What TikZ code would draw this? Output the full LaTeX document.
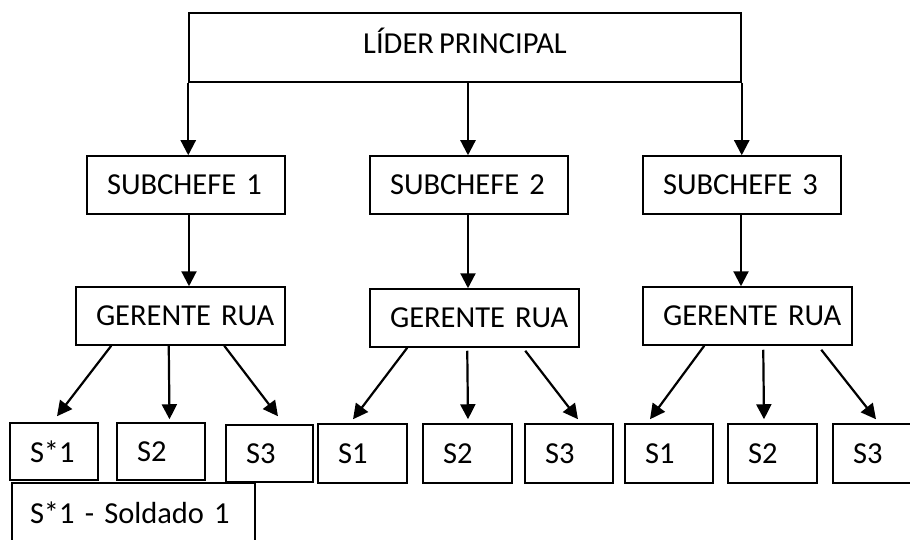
\documentclass[tikz,border=0pt]{standalone}
\usepackage{fontspec}
\setmainfont{Carlito}[WordSpace=0.75]
\usetikzlibrary{arrows.meta,calc}
\begin{document}
\begin{tikzpicture}[x=1pt,y=-1pt,
  box/.style={draw, line width=1.5pt, inner xsep=20pt, inner ysep=0pt, align=left, font=\fontsize{30.5}{35}\selectfont},
  arr/.style={line width=2.2pt, -{Triangle[width=15pt,length=15pt]}}]
\useasboundingbox (0,0) rectangle (910,540);
% top
\node[box, minimum width=552pt, minimum height=69pt, align=center, inner xsep=0pt, text height=19.5pt, text depth=7pt] (lider) at (465,47.5) {LÍDER PRINCIPAL};
% subchefes
\node[box, text width=158pt, minimum height=58pt] (sc1) at (186,185) {\mbox{SUBCHEFE 1}};
\node[box, text width=158pt, minimum height=58pt] (sc2) at (469,185) {\mbox{SUBCHEFE 2}};
\node[box, text width=158pt, minimum height=58pt] (sc3) at (742,185) {\mbox{SUBCHEFE 3}};
% gerentes
\node[box, text width=169pt, minimum height=58pt] (gr1) at (180.5,316) {\mbox{GERENTE RUA}};
\node[box, text width=169pt, minimum height=58pt] (gr2) at (474.5,318) {\mbox{GERENTE RUA}};
\node[box, text width=169pt, minimum height=58pt] (gr3) at (747.5,316) {\mbox{GERENTE RUA}};
% soldiers
\node[box, text width=48pt, minimum height=57pt] (s11) at (54,451.5) {S*1};
\node[box, text width=48pt, minimum height=57pt] (s12) at (161,451.5) {S2};
\node[box, text width=47pt, minimum height=57pt] (s13) at (269.5,453.5) {S3};
\node[box, text width=49pt, minimum height=59pt] (s21) at (362.5,453.5) {S1};
\node[box, text width=49pt, minimum height=59pt] (s22) at (467.5,453.5) {S2};
\node[box, text width=48pt, minimum height=59pt] (s23) at (569,453.5) {S3};
\node[box, text width=48pt, minimum height=59pt] (s31) at (669,453.5) {S1};
\node[box, text width=49pt, minimum height=59pt] (s32) at (772.5,453.5) {S2};
\node[box, text width=48pt, minimum height=59pt] (s33) at (877,453.5) {S3};
\node[box, text width=207pt, minimum height=60pt, inner xsep=18pt] (leg) at (133.5,513) {\mbox{S*1 - Soldado 1}};
% arrows from leader
\draw[arr] (lider.south west) -- (lider.south west |- sc1.north);
\draw[arr] ([xshift=-1pt]sc2.north |- lider.south) -- ([xshift=-1pt]sc2.north);
\draw[arr] (lider.south east) -- (lider.south east |- sc3.north);
% subchefe to gerente
\draw[arr] ([xshift=3pt]sc1.south) -- ([xshift=3pt]sc1.south |- gr1.north);
\draw[arr] ([xshift=-1pt]sc2.south) -- ([xshift=-1pt]sc2.south |- gr2.north);
\draw[arr] ([xshift=-1pt]sc3.south) -- ([xshift=-1pt]sc3.south |- gr3.north);
% gerente 1 to soldiers
\draw[arr] ([xshift=36pt]gr1.south west) -- ([xshift=3pt,yshift=6pt]s11.north);
\draw[arr] ([xshift=93.5pt]gr1.south west) -- ([xshift=8.5pt,yshift=3pt]s12.north);
\draw[arr] ([xshift=149pt]gr1.south west) -- ([xshift=8.5pt,yshift=8pt]s13.north);
% gerente 2 to soldiers
\draw[arr] ([xshift=38pt]gr2.south west) -- ([xshift=-9.5pt,yshift=4pt]s21.north);
\draw[arr] ([xshift=98pt,yshift=-3pt]gr2.south west) -- ([xshift=0.5pt,yshift=4pt]s22.north);
\draw[arr] ([xshift=156pt,yshift=-3pt]gr2.south west) -- ([xshift=9pt,yshift=4pt]s23.north);
% gerente 3 to soldiers
\draw[arr] ([xshift=62pt]gr3.south west) -- ([xshift=-19pt,yshift=4pt]s31.north);
\draw[arr] ([xshift=121pt,yshift=-4pt]gr3.south west) -- ([xshift=-8.5pt,yshift=4pt]s32.north);
\draw[arr] ([xshift=179pt,yshift=-4pt]gr3.south west) -- ([xshift=-1pt,yshift=4pt]s33.north);
\end{tikzpicture}
\end{document}
